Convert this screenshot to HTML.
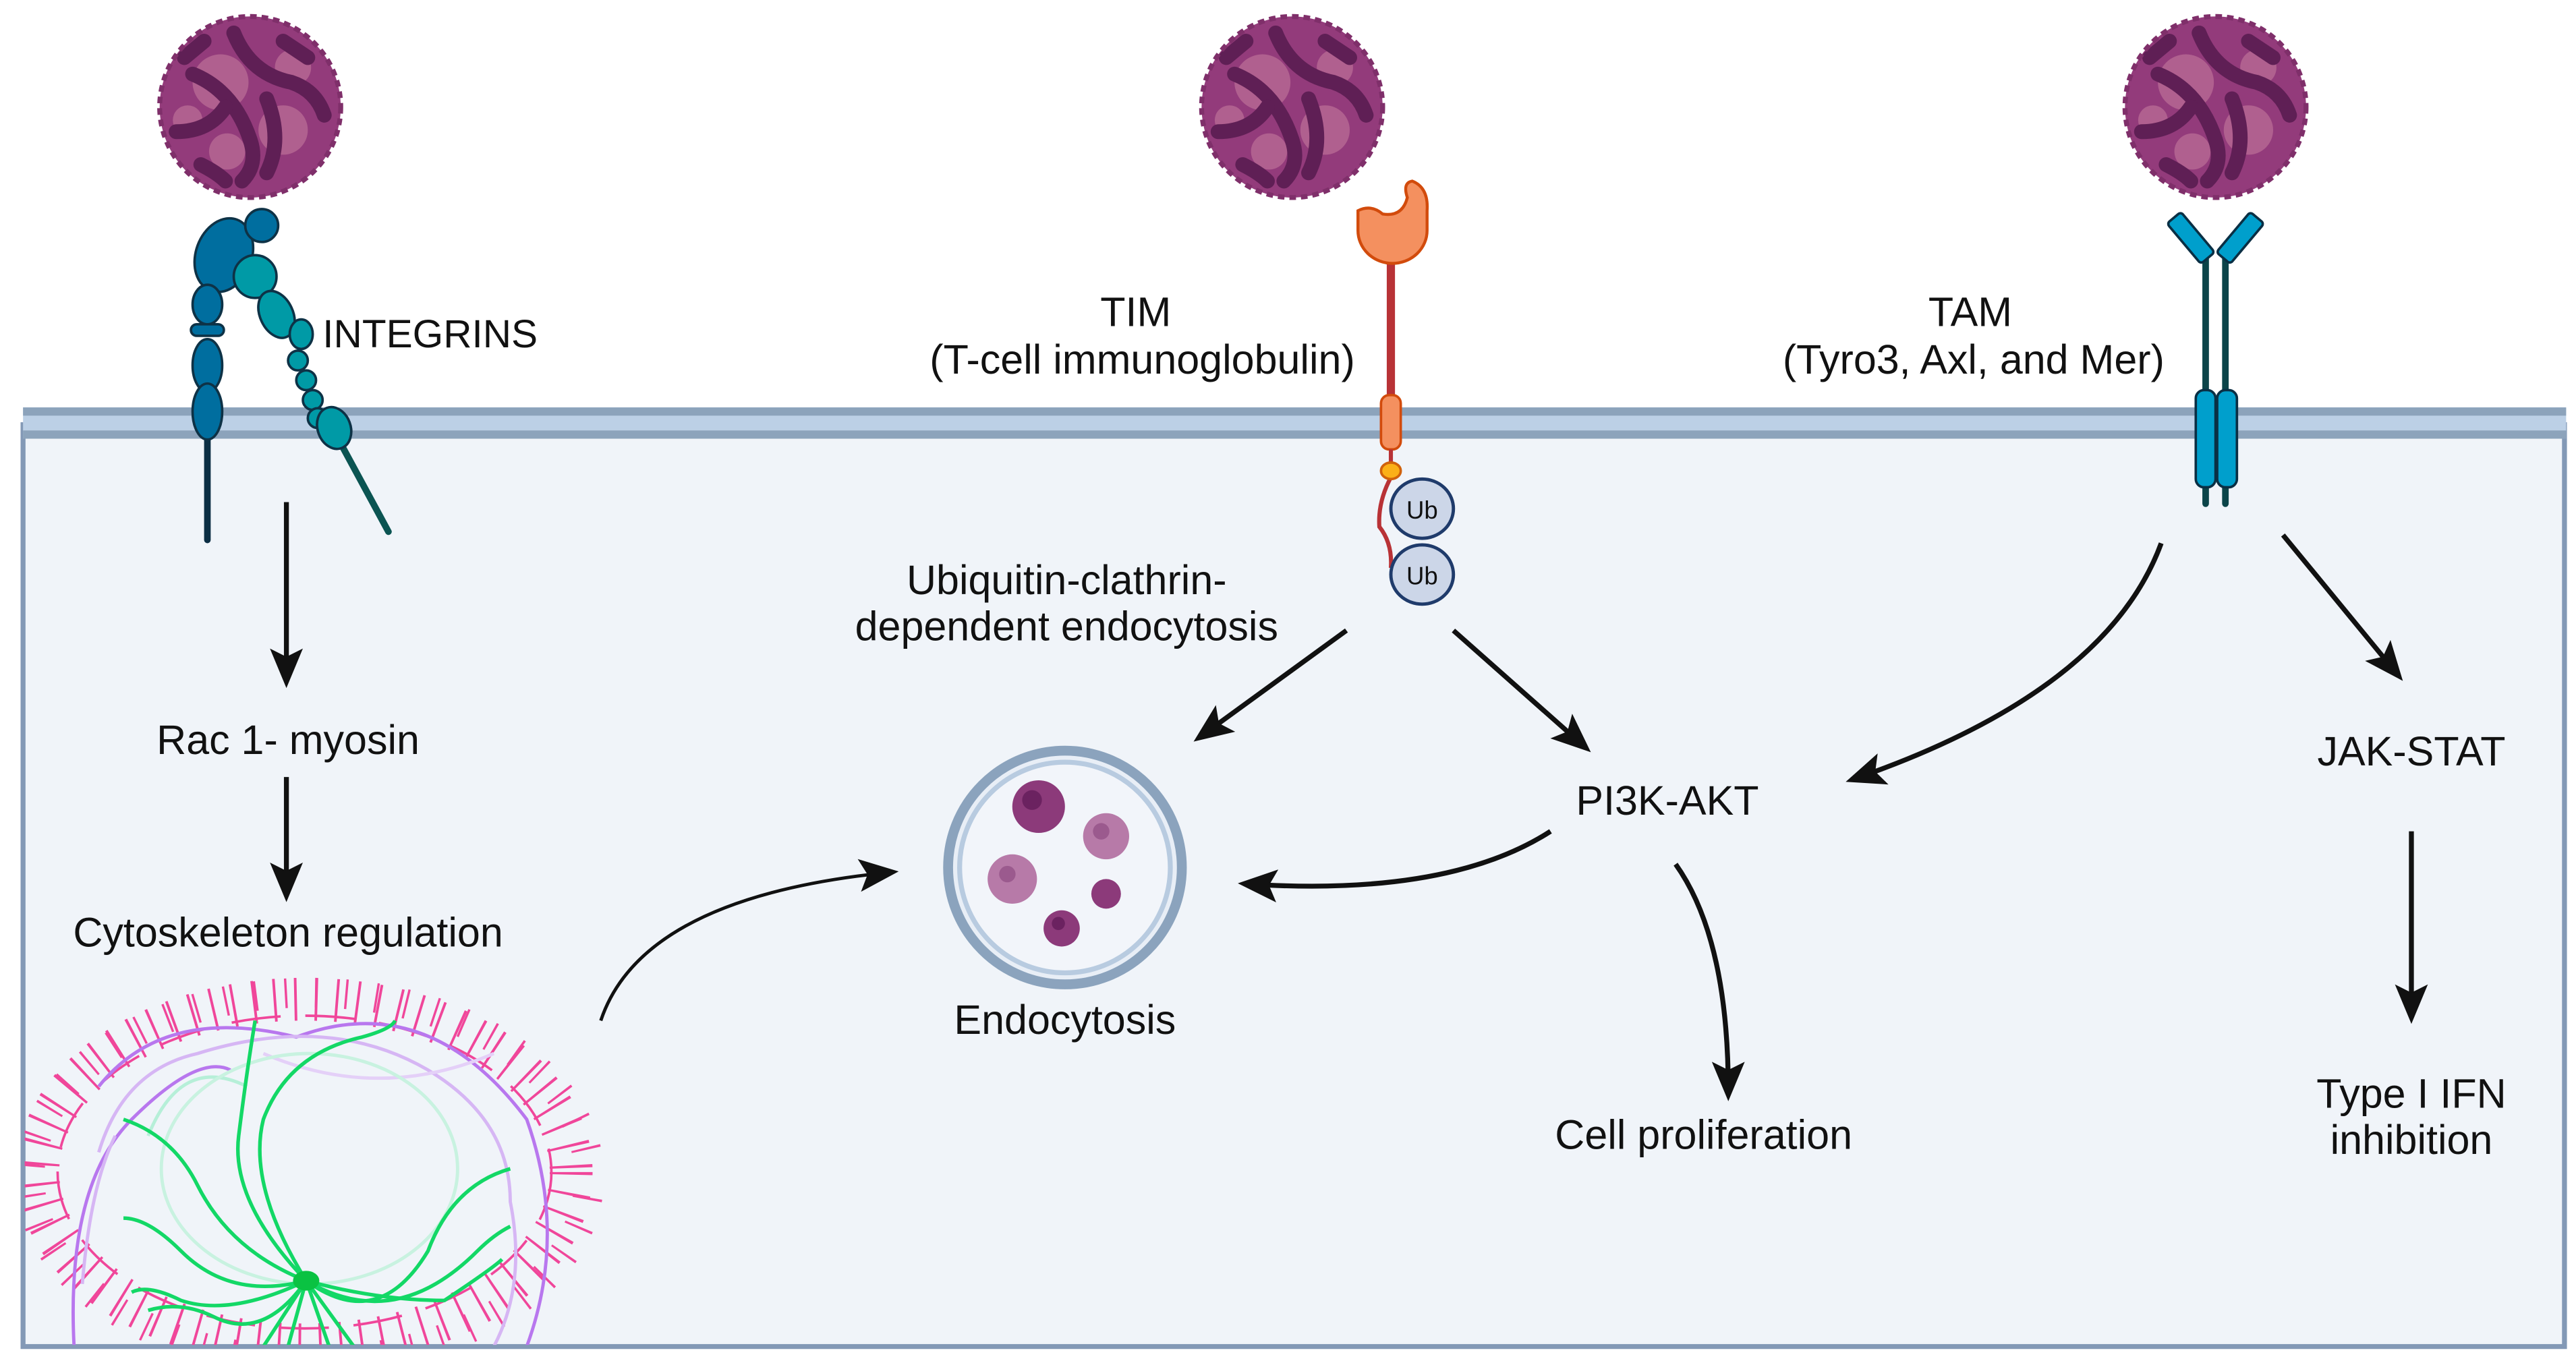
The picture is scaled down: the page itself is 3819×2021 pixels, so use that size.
<!DOCTYPE html>
<html><head><meta charset="utf-8"><style>
html,body{margin:0;padding:0;background:#fff}
svg{display:block}
text{font-family:"Liberation Sans",Arial,sans-serif;fill:#111}
</style></head><body>
<svg width="3819" height="2021" viewBox="0 0 1565 828" preserveAspectRatio="none" xmlns="http://www.w3.org/2000/svg">
<defs>
<marker id="ah" viewBox="0 0 24 22" refX="18" refY="11" markerWidth="24" markerHeight="22" markerUnits="userSpaceOnUse" orient="auto">
<path d="M0,1 L24,11 L0,21 L5,11 Z" fill="#111"/>
</marker>
<g id="virus">
<circle cx="0" cy="0" r="55" fill="#933b7b"/>
<circle cx="-18" cy="-15" r="17" fill="#b0608f"/>
<circle cx="20" cy="14" r="15" fill="#b0608f"/>
<circle cx="-14" cy="27" r="11" fill="#b0608f"/>
<circle cx="26" cy="-24" r="11" fill="#b0608f"/>
<circle cx="-38" cy="8" r="9" fill="#b0608f"/>
<g fill="none" stroke="#5f1f55" stroke-width="9" stroke-linecap="round">
<path d="M-35,-20 Q-10,-10 0,20 Q5,35 -5,45"/>
<path d="M-10,-45 Q0,-20 25,-15 Q40,-10 45,5"/>
<path d="M-45,15 Q-25,15 -15,0"/>
<path d="M10,-5 Q20,20 10,40"/>
<path d="M20,-40 L35,-30"/>
<path d="M-30,35 Q-20,40 -15,45"/>
<path d="M-40,-30 L-28,-40"/>
</g>
<circle cx="0" cy="0" r="55" fill="none" stroke="#7f2f6a" stroke-width="3" stroke-dasharray="4 3"/>
</g>
<clipPath id="cellclip"><rect x="15" y="266" width="1542" height="551"/></clipPath>
</defs>

<rect x="14" y="258" width="1544" height="560" fill="#f0f4f9" stroke="#8399b6" stroke-width="3"/>
<rect x="14" y="247.5" width="1545" height="19" fill="#bcd0e6"/>
<rect x="14" y="247.5" width="1545" height="5" fill="#8ca3bb"/>
<rect x="14" y="261.5" width="1545" height="5" fill="#8ca3bb"/>

<use href="#virus" x="152" y="65"/>
<use href="#virus" x="785" y="65"/>
<use href="#virus" x="1346" y="65"/>

<g stroke="#0e3246" stroke-width="1.5">
<line x1="126" y1="250" x2="126" y2="328" stroke="#0b2e44" stroke-width="4" stroke-linecap="round"/>
<line x1="203" y1="262" x2="236" y2="323" stroke="#0b5452" stroke-width="4" stroke-linecap="round"/>
<ellipse cx="136" cy="155" rx="17" ry="23" transform="rotate(20 136 155)" fill="#006e9f"/>
<circle cx="159" cy="137" r="10" fill="#006e9f"/>
<ellipse cx="126" cy="185" rx="9" ry="12" fill="#006e9f"/>
<rect x="116" y="197" width="20" height="7" rx="3.5" fill="#006e9f"/>
<ellipse cx="126" cy="222" rx="9" ry="16" fill="#006e9f"/>
<ellipse cx="126" cy="250" rx="9" ry="17" fill="#006e9f"/>
<circle cx="155" cy="168" r="13" fill="#009aa6"/>
<ellipse cx="168" cy="191" rx="10" ry="15" transform="rotate(-25 168 191)" fill="#009aa6"/>
<ellipse cx="183" cy="203" rx="7" ry="9" fill="#009aa6"/>
<circle cx="181" cy="219" r="6" fill="#009aa6"/>
<circle cx="186" cy="231" r="6" fill="#009aa6"/>
<circle cx="190" cy="243" r="6" fill="#009aa6"/>
<circle cx="193" cy="254" r="6" fill="#009aa6"/>
<ellipse cx="203" cy="260" rx="10" ry="13" transform="rotate(-20 203 260)" fill="#009aa6"/>
</g>
<text x="196" y="211" font-size="24">INTEGRINS</text>

<line x1="845" y1="155" x2="845" y2="245" stroke="#b83236" stroke-width="5"/>
<path d="M825,128 Q833,124 840,130 Q852,132 855,120 Q852,111 858,110 Q868,114 867,128 L867,140 A21,20 0 0 1 825,140 Z" fill="#f4905f" stroke="#d24b0c" stroke-width="1.8"/>
<rect x="839" y="240" width="12" height="33" rx="5" fill="#f4905f" stroke="#d24b0c" stroke-width="1.5"/>
<path d="M845,273 L845,286 M845,290 Q837,305 838,320 Q846,330 845,345" fill="none" stroke="#b83236" stroke-width="2.5"/>
<ellipse cx="845" cy="286" rx="6" ry="5" fill="#fbb018" stroke="#d0620c" stroke-width="1.5"/>
<ellipse cx="864" cy="309" rx="19" ry="18" fill="#ccd6e8" stroke="#1f3b6b" stroke-width="2"/>
<ellipse cx="864" cy="349" rx="19" ry="18" fill="#ccd6e8" stroke="#1f3b6b" stroke-width="2"/>
<text x="864" y="315" font-size="15" text-anchor="middle">Ub</text>
<text x="864" y="355" font-size="15" text-anchor="middle">Ub</text>
<text x="690" y="198" font-size="25" text-anchor="middle">TIM</text>
<text x="694" y="227" font-size="25" text-anchor="middle">(T-cell immunoglobulin)</text>

<g stroke="#0a2f44" stroke-width="1.5">
<line x1="1340" y1="152" x2="1340" y2="306" stroke="#0b4449" stroke-width="4" stroke-linecap="round"/>
<line x1="1352" y1="152" x2="1352" y2="306" stroke="#0b4449" stroke-width="4" stroke-linecap="round"/>
<rect x="1315" y="139" width="32" height="11" rx="2" transform="rotate(50 1331 144.5)" fill="#009fcc"/>
<rect x="1345" y="139" width="32" height="11" rx="2" transform="rotate(-50 1361 144.5)" fill="#009fcc"/>
<rect x="1334" y="237" width="12" height="59" rx="5" fill="#009fcc"/>
<rect x="1347" y="237" width="12" height="59" rx="5" fill="#009fcc"/>
</g>
<text x="1197" y="198" font-size="25" text-anchor="middle">TAM</text>
<text x="1199" y="227" font-size="25" text-anchor="middle">(Tyro3, Axl, and Mer)</text>

<text x="648" y="361" font-size="25" text-anchor="middle">Ubiquitin-clathrin-</text>
<text x="648" y="389" font-size="25" text-anchor="middle">dependent endocytosis</text>
<text x="175" y="458" font-size="25" text-anchor="middle">Rac 1- myosin</text>
<text x="175" y="575" font-size="25" text-anchor="middle">Cytoskeleton regulation</text>
<text x="647" y="628" font-size="25" text-anchor="middle">Endocytosis</text>
<text x="1013" y="495" font-size="25" text-anchor="middle">PI3K-AKT</text>
<text x="1465" y="465" font-size="25" text-anchor="middle">JAK-STAT</text>
<text x="1035" y="698" font-size="25" text-anchor="middle">Cell proliferation</text>
<text x="1465" y="673" font-size="25" text-anchor="middle">Type I IFN</text>
<text x="1465" y="701" font-size="25" text-anchor="middle">inhibition</text>

<g fill="none" stroke="#111" stroke-width="3" marker-end="url(#ah)">
<path d="M174,305 L174,412"/>
<path d="M174,472 L174,542"/>
<path d="M818,383 L730,447"/>
<path d="M883,383 L962,453"/>
<path d="M1313,330 Q1280,420 1127,473"/>
<path d="M1387,325 L1456,409"/>
<path d="M1465,505 L1465,616"/>
<path d="M942,505 Q880,545 758,537"/>
<path d="M1018,525 Q1050,570 1050,663"/>
<path d="M365,620 Q390,545 540,530" stroke-width="2"/>
</g>

<circle cx="647" cy="527" r="71" fill="#e8eef6" stroke="#8ba3bd" stroke-width="6"/>
<circle cx="647" cy="527" r="64" fill="#f2f5fa" stroke="#b8cbe0" stroke-width="3"/>
<g>
<circle cx="631" cy="490" r="16" fill="#8c3a7a"/><circle cx="627" cy="486" r="6" fill="#6b2260"/>
<circle cx="672" cy="508" r="14" fill="#b77aa8"/><circle cx="669" cy="505" r="5" fill="#9b5a8e"/>
<circle cx="615" cy="534" r="15" fill="#b77aa8"/><circle cx="612" cy="531" r="5" fill="#9b5a8e"/>
<circle cx="672" cy="543" r="9" fill="#8c3a7a"/>
<circle cx="645" cy="564" r="11" fill="#8c3a7a"/><circle cx="643" cy="561" r="4" fill="#6b2260"/>
</g>

<g clip-path="url(#cellclip)" fill="none">
<ellipse cx="185" cy="712" rx="162" ry="105" stroke="#f0469a" stroke-width="26" stroke-dasharray="1.6 11"/>
<ellipse cx="185" cy="712" rx="150" ry="95" stroke="#f0469a" stroke-width="1.5" stroke-dasharray="30 15"/>
<ellipse cx="188" cy="715" rx="170" ry="112" stroke="#f0469a" stroke-width="18" stroke-dasharray="1.4 17" stroke-dashoffset="6"/>
<path d="M60,660 Q100,610 180,630 Q260,600 320,680 Q345,750 320,818" stroke="#b877ee" stroke-width="2"/>
<path d="M45,818 Q40,720 80,680 Q120,640 140,650" stroke="#b877ee" stroke-width="2"/>
<path d="M60,700 Q75,650 120,640 Q200,615 260,650 Q310,680 310,730 Q320,780 300,818" stroke="#d6b6f4" stroke-width="2"/>
<path d="M50,780 Q55,720 70,690" stroke="#d6b6f4" stroke-width="2"/>
<path d="M160,640 Q230,670 300,640" stroke="#e4d0f8" stroke-width="2"/>
<path d="M90,690 Q110,640 150,660" stroke="#b6efd8" stroke-width="2"/>
<ellipse cx="188" cy="710" rx="90" ry="70" stroke="#c8f2e0" stroke-width="2"/>
<g stroke="#13d866" stroke-width="2.2">
<path d="M186,778 Q140,730 145,690 Q150,650 155,620"/>
<path d="M186,778 Q150,720 160,680 Q175,640 220,630 Q238,625 240,620"/>
<path d="M186,778 Q140,760 120,720 Q105,690 75,680"/>
<path d="M186,778 Q140,790 110,760 Q90,740 75,740"/>
<path d="M186,778 Q140,800 110,790 Q90,780 80,785"/>
<path d="M186,778 Q160,815 130,800 Q110,790 90,796"/>
<path d="M186,778 Q230,810 260,760 Q275,720 310,710"/>
<path d="M186,778 Q240,810 290,760 Q300,750 310,745"/>
<path d="M186,778 Q230,790 270,790 Q300,770 305,765"/>
<path d="M186,778 L175,818 M186,778 L160,818 M186,778 L200,818 M186,778 L215,818"/>
</g>
<ellipse cx="186" cy="778" rx="8" ry="6" fill="#0ac242"/>
</g>
</svg>
</body></html>
